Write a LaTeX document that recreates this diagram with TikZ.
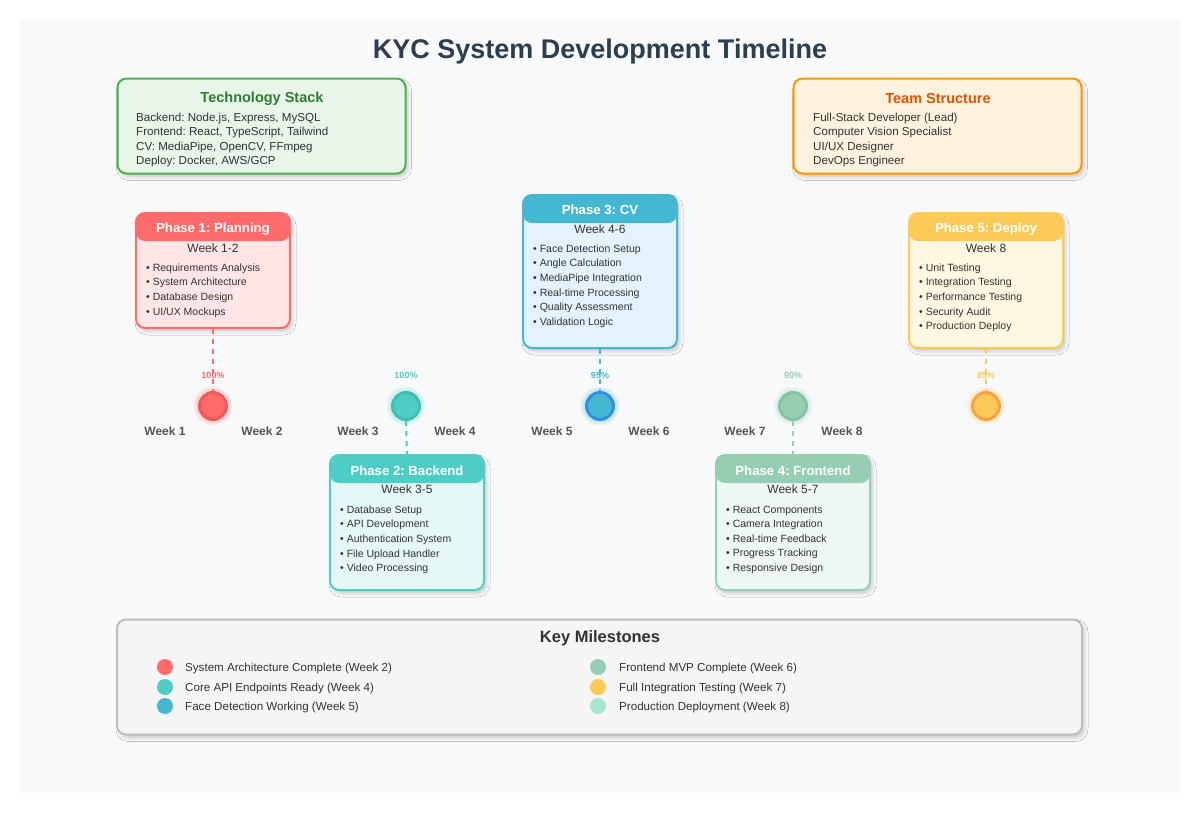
\documentclass[tikz,border=0pt]{standalone}
\usepackage{fontspec}
\setmainfont{Liberation Sans}
\usetikzlibrary{shadows.blur}
\frenchspacing

\definecolor{panel}{HTML}{F8F9FA}
\definecolor{ink}{HTML}{2C3E50}
\definecolor{body}{HTML}{333333}
\definecolor{weekgray}{HTML}{555555}
% technology / team cards
\definecolor{techfill}{HTML}{E8F5E9}
\definecolor{techline}{HTML}{4CAF50}
\definecolor{techhead}{HTML}{2E7D32}
\definecolor{teamfill}{HTML}{FFF3E0}
\definecolor{teamline}{HTML}{FF9800}
\definecolor{teamhead}{HTML}{E65100}
% phase colours
\definecolor{cA}{HTML}{FF6B6B}\definecolor{cAl}{HTML}{FFE5E5}\definecolor{cAd}{HTML}{EE5A5A}
\definecolor{cB}{HTML}{4ECDC4}\definecolor{cBl}{HTML}{E6F8F6}\definecolor{cBd}{HTML}{3FBDB4}
\definecolor{cC}{HTML}{45B7D1}\definecolor{cCl}{HTML}{E3F2FD}\definecolor{cCd}{HTML}{2F8FE0}
\definecolor{cD}{HTML}{96CEB4}\definecolor{cDl}{HTML}{EEF7F2}\definecolor{cDd}{HTML}{86C2A6}
\definecolor{cE}{HTML}{FECA57}\definecolor{cEl}{HTML}{FFF7E1}\definecolor{cEd}{HTML}{FF9F43}
\definecolor{cF}{HTML}{A8E6CF}
\definecolor{msfill}{HTML}{F5F5F5}
\definecolor{msline}{HTML}{BDBDBD}

\newcommand{\fsz}[2]{\fontsize{#1}{#2}\selectfont}

\tikzset{
  card/.style={rectangle, rounded corners=9pt, line width=2pt, inner sep=0pt,
    blur shadow={shadow xshift=2.5pt, shadow yshift=-3.5pt, shadow blur radius=3.5pt, shadow opacity=18}},
  phasebox/.style={card, draw=#1, minimum width=154pt,
    path picture={\fill[#1] ([yshift=2pt]path picture bounding box.north west)
      rectangle ([yshift=-28pt]path picture bounding box.north east);}},
  phasetitle/.style={text=white, font=\fsz{13.2}{15}\bfseries, inner sep=0pt},
  weektext/.style={text=body, font=\fsz{12}{14}, inner sep=0pt},
  items/.style={text=body, font=\fsz{10.5}{14.6}, align=left, anchor=north west, inner sep=0pt},
  cardtitle/.style={font=\fsz{14.5}{17}\bfseries, inner sep=0pt},
  cardlines/.style={text=body, font=\fsz{11.6}{14.4}, align=left, anchor=north west, inner sep=0pt},
  mstone/.style={circle, minimum size=27pt, inner sep=0pt, line width=3pt},
  pct/.style={font=\fsz{9}{10}\bfseries, inner sep=0pt},
  wk/.style={text=weekgray, font=\fsz{12}{14}\bfseries, inner sep=0pt},
  link/.style={line width=2pt, dash pattern=on 5pt off 5pt},
  dot/.style={circle, minimum size=16pt, inner sep=0pt},
  legend/.style={text=body, font=\fsz{11.6}{14}, anchor=west, inner sep=0pt},
}

\begin{document}
\begin{tikzpicture}[x=1pt,y=-1pt]
\useasboundingbox (0,0) rectangle (1200,817);
\fill[white] (0,0) rectangle (1200,817);
\fill[panel] (20,20) rectangle (1180,793);

% title
\node[text=ink, font=\fsz{27}{32}\bfseries, inner sep=0pt] (title) at (600,51.5) {KYC System Development Timeline};

% technology stack
\node[card, draw=techline, fill=techfill, minimum width=288pt, minimum height=95pt] (tech) at (261.5,126) {};
\node[cardtitle, text=techhead] (techT) at (262,98.5) {Technology Stack};
\node[cardlines] (techL) at (136,112.8) {Backend: Node.js, Express, MySQL\\Frontend: React, TypeScript, Tailwind\\CV: MediaPipe, OpenCV, FFmpeg\\Deploy: Docker, AWS/GCP};

% team structure
\node[card, draw=teamline, fill=teamfill, minimum width=288pt, minimum height=95pt] (team) at (937.5,126) {};
\node[cardtitle, text=teamhead] (teamT) at (938,98.5) {Team Structure};
\node[cardlines] (teamL) at (813,112.8) {Full-Stack Developer (Lead)\\Computer Vision Specialist\\UI/UX Designer\\DevOps Engineer};

% phase cards
\node[phasebox=cA, fill=cAl, minimum height=115pt] (p1) at (213,270.5) {};
\node[phasetitle] (p1t) at (213,229.5) {Phase 1: Planning};
\node[weektext] (p1w) at (213,248) {Week 1-2};
\node[items] (p1i) at (146,263.5) {• Requirements Analysis\\• System Architecture\\• Database Design\\• UI/UX Mockups};

\node[phasebox=cC, fill=cCl, minimum height=153pt] (p3) at (600,271.5) {};
\node[phasetitle] (p3t) at (600,209.5) {Phase 3: CV};
\node[weektext] (p3w) at (600,229) {Week 4-6};
\node[items] (p3i) at (533,244.5) {• Face Detection Setup\\• Angle Calculation\\• MediaPipe Integration\\• Real-time Processing\\• Quality Assessment\\• Validation Logic};

\node[phasebox=cE, fill=cEl, minimum height=135pt] (p5) at (986,280.5) {};
\node[phasetitle] (p5t) at (986,229.5) {Phase 5: Deploy};
\node[weektext] (p5w) at (986,248) {Week 8};
\node[items] (p5i) at (919,263.5) {• Unit Testing\\• Integration Testing\\• Performance Testing\\• Security Audit\\• Production Deploy};

\node[phasebox=cB, fill=cBl, minimum height=135pt] (p2) at (407,522.5) {};
\node[phasetitle] (p2t) at (407,470.5) {Phase 2: Backend};
\node[weektext] (p2w) at (407,489) {Week 3-5};
\node[items] (p2i) at (340,505.5) {• Database Setup\\• API Development\\• Authentication System\\• File Upload Handler\\• Video Processing};

\node[phasebox=cD, fill=cDl, minimum height=135pt] (p4) at (793,522.5) {};
\node[phasetitle] (p4t) at (793,470.5) {Phase 4: Frontend};
\node[weektext] (p4w) at (793,489) {Week 5-7};
\node[items] (p4i) at (726,505.5) {• React Components\\• Camera Integration\\• Real-time Feedback\\• Progress Tracking\\• Responsive Design};

% soft glow round the milestone markers
\foreach \x/\c in {213/cA, 406/cB, 600/cC, 793/cD, 986/cE} {
  \fill[\c, opacity=0.10] (\x,406) circle (19.5);
  \fill[\c, opacity=0.15] (\x,406) circle (17.5);
}

% milestone markers
\node[mstone, draw=cAd, fill=cA] (m1) at (213,406) {};
\node[mstone, draw=cBd, fill=cB] (m2) at (406,406) {};
\node[mstone, draw=cCd, fill=cC] (m3) at (600,406) {};
\node[mstone, draw=cDd, fill=cD] (m4) at (793,406) {};
\node[mstone, draw=cEd, fill=cE] (m5) at (986,406) {};

% progress figures
\node[pct, text=cA] (q1) at (213,375) {100\%};
\node[pct, text=cB] (q2) at (406,375) {100\%};
\node[pct, text=cC] (q3) at (600,375) {95\%};
\node[pct, text=cD] (q4) at (793,375) {90\%};
\node[pct, text=cE] (q5) at (986,375) {85\%};

% links between cards and markers
\draw[link, cA] (p1.south) -- (m1.north);
\draw[link, cC] (p3.south) -- (m3.north);
\draw[link, cE] (p5.south) -- (m5.north);
\draw[link, cB] (m2.south) -- (p2.north);
\draw[link, cD] (m4.south) -- (p4.north);

% week labels
\foreach \x/\a/\b [count=\i] in {213/1/2, 406/3/4, 600/5/6, 793/7/8} {
  \node[wk] (wa\i) at (\x-48,431) {Week \a};
  \node[wk] (wb\i) at (\x+49,431) {Week \b};
}

% key milestones
\node[card, draw=msline, fill=msfill, minimum width=965pt, minimum height=115pt] (ms) at (599.5,677) {};
\node[text=body, font=\fsz{16.5}{20}\bfseries, inner sep=0pt] (msT) at (600,638.5) {Key Milestones};

\node[dot, fill=cA] (l1) at (165,667) {};
\node[legend] (t1) at (185,668.5) {System Architecture Complete (Week 2)};
\node[dot, fill=cB] (l2) at (165,687) {};
\node[legend] (t2) at (185,688.5) {Core API Endpoints Ready (Week 4)};
\node[dot, fill=cC] (l3) at (165,706) {};
\node[legend] (t3) at (185,707.5) {Face Detection Working (Week 5)};
\node[dot, fill=cD] (l4) at (598,667) {};
\node[legend] (t4) at (619,668.5) {Frontend MVP Complete (Week 6)};
\node[dot, fill=cE] (l5) at (598,687) {};
\node[legend] (t5) at (619,688.5) {Full Integration Testing (Week 7)};
\node[dot, fill=cF] (l6) at (598,706) {};
\node[legend] (t6) at (619,707.5) {Production Deployment (Week 8)};
\end{tikzpicture}
\end{document}
